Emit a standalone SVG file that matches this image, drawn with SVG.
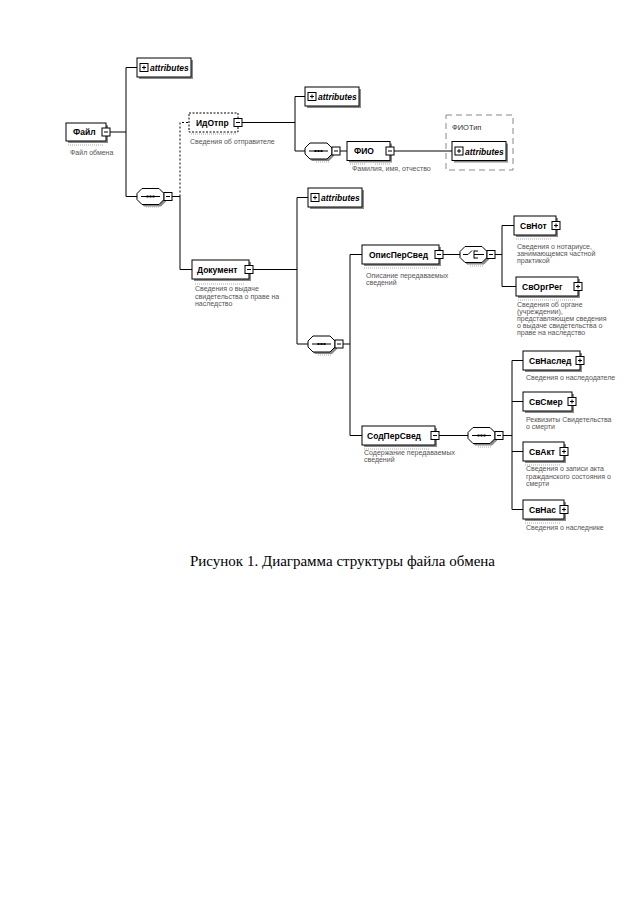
<svg xmlns="http://www.w3.org/2000/svg" xmlns:xlink="http://www.w3.org/1999/xlink" width="640" height="905" viewBox="0 0 640 905">
<style>
.bg{fill:#fff}
.box{fill:#fff;stroke:#000;stroke-width:1}
.opt{fill:#fff;stroke:#000;stroke-width:1;stroke-dasharray:2 1.5}
.sh{fill:#8a8a8a}
.lbl{font-family:"Liberation Sans",Arial,sans-serif;font-weight:bold;font-size:8.5px;fill:#000}
.ann{font-family:"Liberation Sans",Arial,sans-serif;font-size:7px;fill:#555}
.typ{font-family:"Liberation Sans",Arial,sans-serif;font-size:7.5px;fill:#333}
.attr{font-family:"Liberation Sans",Arial,sans-serif;font-style:italic;font-weight:bold;font-size:8.5px;fill:#000}
.wire{stroke:#000;stroke-width:1;fill:none}
.dwire{stroke:#000;stroke-width:1;fill:none;stroke-dasharray:2 2}
.tiny{stroke:#aaa;stroke-width:1;stroke-dasharray:1 1;fill:none}
.grp{fill:none;stroke:#888;stroke-width:1;stroke-dasharray:6 4}
.cap{font-family:"Liberation Serif","Times New Roman",serif;font-size:15px;fill:#000}
</style>
<defs>
<g id="minus"><rect x="0" y="0" width="8" height="8" class="box"/><path d="M2,4H6" class="wire"/></g>
<g id="plus"><rect x="0" y="0" width="8" height="8" class="box"/><path d="M2,4H6M4,2V6" class="wire"/></g>
<g id="attrs">
<rect x="2" y="2" width="54" height="19" class="sh"/>
<rect x="0" y="0" width="54" height="19" class="box"/>
<use xlink:href="#plus" x="3" y="5.5"/>
<text x="13" y="13" class="attr">attributes</text>
</g>
<path id="oct" d="M5,0H22L27,5V11L22,16H5L0,11V5Z"/>
<g id="seq">
<use xlink:href="#oct" x="2" y="2" class="sh"/>
<use xlink:href="#oct" class="box"/>
<path d="M4,8H23" class="wire"/>
<rect x="9.5" y="7" width="2" height="2" fill="#000"/>
<rect x="12.5" y="7" width="2" height="2" fill="#000"/>
<rect x="15.5" y="7" width="2" height="2" fill="#000"/>
<use xlink:href="#minus" x="27" y="4"/>
</g>
<g id="choice">
<use xlink:href="#oct" x="2" y="2" class="sh"/>
<use xlink:href="#oct" class="box"/>
<path d="M3,8H8L12,4M14,4V12M14,4.5H18M14,8H24M14,11.5H18" class="wire"/>
<use xlink:href="#minus" x="27" y="4"/>
</g>
</defs>
<rect x="0" y="0" width="640" height="905" class="bg"/>

<g id="connectors">
<path d="M110,132H126M126,67.5V196.5M126,67.5H137M126,196.5H137" class="wire"/>
<path d="M172,196.5H180V269.5H192" class="wire"/>
<path d="M180,196.5V122.5H189" class="dwire"/>
<path d="M242,122.5H295M295,96.5V151M295,96.5H305M295,151H305" class="wire"/>
<path d="M340,151H347M394,151H452" class="wire"/>
<path d="M253,269.5H297M297,197.5V344M297,197.5H308M297,344H308" class="wire"/>
<path d="M343,344H350M350,254.5V435.5M350,254.5H362M350,435.5H362" class="wire"/>
<path d="M443,254.5H460M495,254.5H502M502,225.5V286.5M502,225.5H514M502,286.5H516" class="wire"/>
<path d="M439,435.5H468M503,435.5H512M512,360.5V509.5M512,360.5H523M512,401.5H523M512,451.5H523M512,509.5H523" class="wire"/>
</g>

<g id="attributes-fajl"><use xlink:href="#attrs" x="137" y="58"/></g>

<g id="fajl">
<rect x="68" y="125" width="40" height="18" class="sh"/>
<rect x="66" y="123" width="40" height="18" class="box"/>
<text x="73" y="135" class="lbl">Файл</text>
<use xlink:href="#minus" x="102" y="128"/>
<path d="M68,145H104" class="tiny"/>
<text x="70" y="155" class="ann">Файл обмена</text>
</g>

<g id="seq-fajl"><use xlink:href="#seq" x="137" y="188.5"/><path d="M146,207H160" class="tiny"/></g>

<g id="idotpr">
<rect x="189" y="113" width="49" height="19" class="opt"/>
<text x="196" y="126" class="lbl">ИдОтпр</text>
<use xlink:href="#minus" x="234" y="118.5"/>
<path d="M191,134H236" class="tiny"/>
<text x="190" y="144" class="ann">Сведения об отправителе</text>
</g>

<g id="attributes-idotpr"><use xlink:href="#attrs" x="305" y="87"/></g>

<g id="seq-idotpr"><use xlink:href="#seq" x="305" y="143"/><path d="M316,162H330" class="tiny"/></g>

<g id="fio">
<rect x="349" y="143.5" width="43" height="19" class="sh"/>
<rect x="347" y="141.5" width="43" height="19" class="box"/>
<text x="354" y="154" class="lbl">ФИО</text>
<use xlink:href="#minus" x="386" y="147"/>
<path d="M350,164H365M375,164H390" class="tiny"/>
<text x="352" y="171" class="ann">Фамилия, имя, отчество</text>
</g>

<g id="fiotip">
<rect x="446" y="115" width="67" height="55" class="grp"/>
<text x="452" y="130" class="typ">ФИОТип</text>
<use xlink:href="#attrs" x="452" y="141.5"/>
</g>

<g id="attributes-dokument"><use xlink:href="#attrs" x="308" y="188"/></g>

<g id="dokument">
<rect x="194" y="262" width="57" height="19" class="sh"/>
<rect x="192" y="260" width="57" height="19" class="box"/>
<text x="197" y="273" class="lbl">Документ</text>
<use xlink:href="#minus" x="245" y="265.5"/>
<path d="M195,284H245" class="tiny"/>
<text x="195" y="291" class="ann">Сведения о выдаче</text>
<text x="195" y="298.5" class="ann">свидетельства о праве на</text>
<text x="195" y="306" class="ann">наследство</text>
</g>

<g id="seq-dokument"><use xlink:href="#seq" x="308" y="336"/><path d="M318,355H332" class="tiny"/></g>

<g id="opispersved">
<rect x="364" y="247" width="77" height="19" class="sh"/>
<rect x="362" y="245" width="77" height="19" class="box"/>
<text x="369" y="258" class="lbl">ОписПерСвед</text>
<use xlink:href="#minus" x="435" y="250.5"/>
<path d="M364,268H437" class="tiny"/>
<text x="366" y="278" class="ann">Описание передаваемых</text>
<text x="366" y="285" class="ann">сведений</text>
</g>

<g id="choice-opispersved"><use xlink:href="#choice" x="460" y="246.5"/><path d="M470,266H484" class="tiny"/></g>

<g id="svnot">
<rect x="516" y="218" width="42" height="19" class="sh"/>
<rect x="514" y="216" width="42" height="19" class="box"/>
<text x="520" y="229" class="lbl">СвНот</text>
<use xlink:href="#plus" x="552" y="221.5"/>
<path d="M516,239H552" class="tiny"/>
<text x="517" y="249" class="ann">Сведения о нотариусе,</text>
<text x="517" y="256" class="ann">занимающемся частной</text>
<text x="517" y="263" class="ann">практикой</text>
</g>

<g id="svorgreg">
<rect x="518" y="279" width="62" height="19" class="sh"/>
<rect x="516" y="277" width="62" height="19" class="box"/>
<text x="522" y="290" class="lbl">СвОргРег</text>
<use xlink:href="#plus" x="574" y="282.5"/>
<path d="M518,300H575" class="tiny"/>
<text x="517" y="307" class="ann">Сведения об  органе</text>
<text x="517" y="314" class="ann">(учреждении),</text>
<text x="517" y="321" class="ann">представляющем сведения</text>
<text x="517" y="328" class="ann">о выдаче свидетельства о</text>
<text x="517" y="335" class="ann">праве на наследство</text>
</g>

<g id="sodpersved">
<rect x="364" y="428" width="73" height="19" class="sh"/>
<rect x="362" y="426" width="73" height="19" class="box"/>
<text x="367" y="439" class="lbl">СодПерСвед</text>
<use xlink:href="#minus" x="431" y="431.5"/>
<path d="M364,449H430" class="tiny"/>
<text x="364" y="455" class="ann">Содержание передаваемых</text>
<text x="364" y="462" class="ann">сведений</text>
</g>

<g id="seq-sodpersved"><use xlink:href="#seq" x="468" y="427.5"/><path d="M478,447H492" class="tiny"/></g>

<g id="svnasled">
<rect x="525" y="353" width="57" height="19" class="sh"/>
<rect x="523" y="351" width="57" height="19" class="box"/>
<text x="529" y="364" class="lbl">СвНаслед</text>
<use xlink:href="#plus" x="576" y="356.5"/>
<text x="526" y="380" class="ann">Сведения о наследодателе</text>
</g>

<g id="svsmer">
<rect x="525" y="394" width="49" height="19" class="sh"/>
<rect x="523" y="392" width="49" height="19" class="box"/>
<text x="529" y="405" class="lbl">СвСмер</text>
<use xlink:href="#plus" x="568" y="397.5"/>
<text x="526" y="422" class="ann">Реквизиты Свидетельства</text>
<text x="526" y="429" class="ann">о смерти</text>
</g>

<g id="svakt">
<rect x="525" y="444" width="41" height="19" class="sh"/>
<rect x="523" y="442" width="41" height="19" class="box"/>
<text x="529" y="455" class="lbl">СвАкт</text>
<use xlink:href="#plus" x="560" y="447.5"/>
<path d="M525,465H560" class="tiny"/>
<text x="526" y="471" class="ann">Сведения о записи акта</text>
<text x="526" y="478.5" class="ann">гражданского состояния о</text>
<text x="526" y="486" class="ann">смерти</text>
</g>

<g id="svnas">
<rect x="525" y="502" width="41" height="19" class="sh"/>
<rect x="523" y="500" width="41" height="19" class="box"/>
<text x="529" y="513" class="lbl">СвНас</text>
<use xlink:href="#plus" x="560" y="505.5"/>
<path d="M525,523H560" class="tiny"/>
<text x="526" y="530" class="ann">Сведения о наследнике</text>
</g>

<text x="190" y="566" class="cap">Рисунок 1. Диаграмма структуры файла обмена</text>
</svg>
